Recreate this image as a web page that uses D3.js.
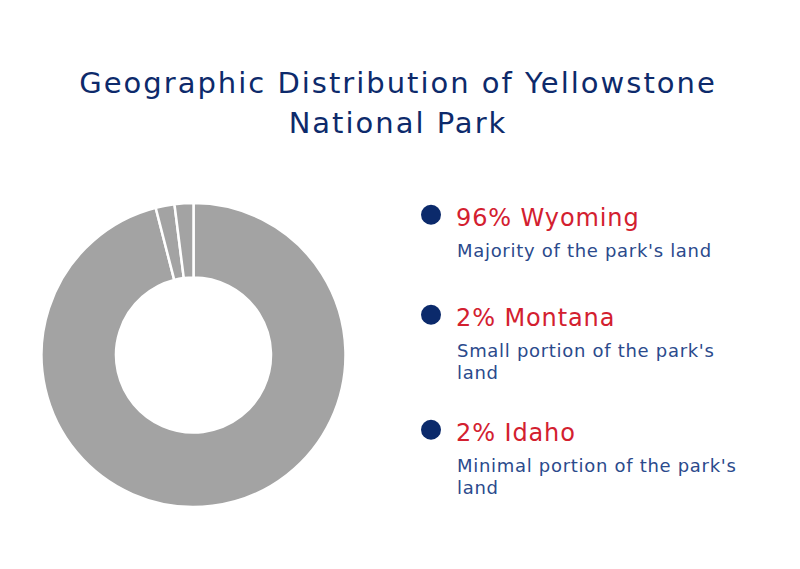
<!DOCTYPE html>
<html>
<head>
<meta charset="utf-8">
<script src="https://cdn.jsdelivr.net/npm/d3@7"></script>
<style>
  body { margin: 0; background: #fff; }
  svg { display: block; font-family: "DejaVu Sans", sans-serif; }
</style>
</head>
<body>
<script>
const states = ["Wyoming", "Montana", "Idaho"];
const shares = [96, 2, 2];
const descriptions = [
    ["Majority of the park's land"],
    ["Small portion of the park's", "land"],
    ["Minimal portion of the park's", "land"]
];
const titleLines = ["Geographic Distribution of Yellowstone", "National Park"];

const width = 800, height = 569;
const data = states.map((s, i) => ({ state: s, share: shares[i], desc: descriptions[i] }));

const svg = d3.select("body").append("svg")
    .attr("width", width)
    .attr("height", height);

// title
svg.append("text")
    .attr("x", 398)
    .attr("y", 93)
    .attr("text-anchor", "middle")
    .style("font-size", "29px")
    .style("letter-spacing", "2px")
    .style("fill", "#0d2a6b")
    .selectAll("tspan")
    .data(titleLines)
    .join("tspan")
    .attr("x", 398)
    .attr("dy", (d, i) => i === 0 ? 0 : 40)
    .text(d => d);

// donut
const outerRadius = 152, innerRadius = 77.5;
const pie = d3.pie().sort(null).value(d => d.share);
const arc = d3.arc().innerRadius(innerRadius).outerRadius(outerRadius);

const g = svg.append("g").attr("transform", "translate(193.5,355)");
g.selectAll("path")
    .data(pie(data))
    .join("path")
    .attr("d", arc)
    .attr("fill", "#a3a3a3")
    .attr("stroke", "#fff")
    .attr("stroke-width", 2.5);

// legend: each item is 85px plus 15px per description line
let acc = 214.7;
data.forEach(d => { d.y = acc; acc += 85 + 15 * d.desc.length; });

const item = svg.append("g").selectAll("g")
    .data(data)
    .join("g")
    .attr("transform", d => `translate(0,${d.y})`);

item.append("circle")
    .attr("cx", 431)
    .attr("cy", 0)
    .attr("r", 10)
    .attr("fill", "#0b2a6b");

item.append("text")
    .attr("x", 456)
    .attr("y", 11)
    .style("font-size", "24px")
    .style("letter-spacing", "0.9px")
    .style("fill", "#d3202f")
    .text(d => `${d.share}% ${d.state}`);

item.append("text")
    .attr("y", 42)
    .style("font-size", "18px")
    .style("letter-spacing", "0.7px")
    .style("fill", "#2b4a8c")
    .selectAll("tspan")
    .data(d => d.desc)
    .join("tspan")
    .attr("x", 457)
    .attr("dy", (d, i) => i === 0 ? 0 : 22.5)
    .text(d => d);
</script>
</body>
</html>
